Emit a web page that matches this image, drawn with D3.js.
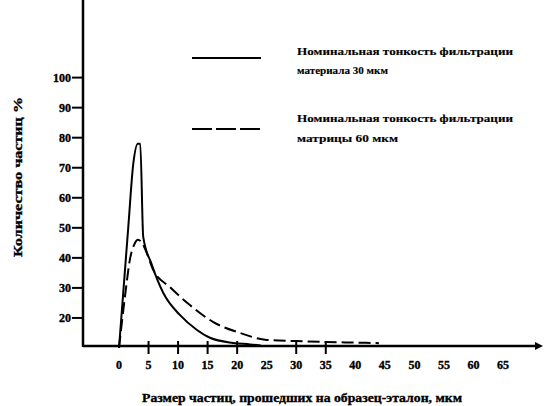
<!DOCTYPE html>
<html>
<head>
<meta charset="utf-8">
<script src="https://cdn.jsdelivr.net/npm/d3@7"></script>
<style>
  body { margin: 0; background: #fff; }
  text { font-family: "Liberation Serif", "DejaVu Serif", serif; font-weight: bold; fill: #000; stroke: #000; stroke-width: 0.35px; }
</style>
</head>
<body>
<div id="chart"></div>
<script>
// Data
const xTickLabels = [0, 5, 10, 15, 20, 25, 30, 35, 40, 45, 50, 55, 60, 65];
const xTickMarks = [5, 10, 15, 20, 30, 35];
const yTickLabels = [20, 30, 40, 50, 60, 70, 80, 90, 100];

// Номинальная тонкость фильтрации материала 30 мкм (solid)
const size30 = [0, 0.8, 1.6, 2.4, 3.2, 3.6, 4.1, 5.5, 7.5, 10.3, 13.2, 15.4, 19.3, 22.2, 24];
const count30 = [10, 30.5, 51, 71, 78, 78, 47, 38, 28.3, 21, 16, 13.4, 11.7, 11.2, 10.8];

// Номинальная тонкость фильтрации матрицы 60 мкм (dashed)
const size60 = [0, 1.0, 1.9, 2.6, 3.2, 3.9, 4.7, 5.8, 8.6, 12, 15.9, 20.5, 25, 30, 35, 40, 44];
const count60 = [10, 27, 40, 44.5, 46, 45, 41.6, 36, 30.3, 24.3, 18.7, 15, 12.7, 12.3, 12, 11.8, 11.6];

const legendLines = [
  ["Номинальная тонкость фильтрации", "материала 30 мкм"],
  ["Номинальная тонкость фильтрации", "матрицы 60 мкм"],
];

const width = 545, height = 406;

const svg = d3.select("#chart").append("svg")
  .attr("width", width)
  .attr("height", height);

svg.append("rect").attr("width", width).attr("height", height).attr("fill", "#fff");

// Scales
const x = d3.scaleLinear().domain([0, 65]).range([119, 503]);
const y = d3.scaleLinear().domain([10, 100]).range([348, 77.6]);
const axisX = 83;
const axisY = 346;

// Axes lines
svg.append("line")
  .attr("x1", axisX).attr("x2", axisX)
  .attr("y1", 0).attr("y2", axisY + 1)
  .attr("stroke", "#000").attr("stroke-width", 2.5);
svg.append("line")
  .attr("x1", axisX).attr("x2", 538)
  .attr("y1", axisY).attr("y2", axisY)
  .attr("stroke", "#000").attr("stroke-width", 2.5);
svg.append("path")
  .attr("d", `M535,${axisY - 4}L543,${axisY}L535,${axisY + 4}Z`)
  .attr("fill", "#000");

// Y ticks
const gy = svg.append("g");
gy.selectAll("line")
  .data(yTickLabels)
  .join("line")
  .attr("x1", axisX - 11).attr("x2", axisX)
  .attr("y1", (d) => y(d)).attr("y2", (d) => y(d))
  .attr("stroke", "#000").attr("stroke-width", 2);
gy.selectAll("text")
  .data(yTickLabels)
  .join("text")
  .attr("x", 71)
  .attr("y", (d) => y(d))
  .attr("dy", "0.35em")
  .attr("text-anchor", "end")
  .attr("font-size", 12)
  .text((d) => d);

// X ticks
const gx = svg.append("g");
gx.selectAll("line")
  .data(xTickMarks)
  .join("line")
  .attr("x1", (d) => x(d)).attr("x2", (d) => x(d))
  .attr("y1", axisY - 5).attr("y2", axisY + 8)
  .attr("stroke", "#000").attr("stroke-width", 2);
gx.selectAll("text")
  .data(xTickLabels)
  .join("text")
  .attr("x", (d) => x(d))
  .attr("y", 365)
  .attr("dy", "0.35em")
  .attr("text-anchor", "middle")
  .attr("font-size", 12)
  .text((d) => d);

// Axis titles
svg.append("text")
  .attr("x", 142)
  .attr("y", 402)
  .attr("font-size", 13)
  .attr("textLength", 320)
  .attr("lengthAdjust", "spacingAndGlyphs")
  .text("Размер частиц, прошедших на  образец-эталон, мкм");

svg.append("text")
  .attr("transform", "translate(22,177) rotate(-90)")
  .attr("text-anchor", "middle")
  .attr("font-size", 13)
  .attr("textLength", 160)
  .attr("lengthAdjust", "spacingAndGlyphs")
  .text("Количество частиц  %");

// Curves
const line = d3.line()
  .x((d) => x(d[0]))
  .y((d) => y(d[1]))
  .curve(d3.curveMonotoneX);

svg.append("path")
  .attr("d", line(d3.zip(size30, count30)))
  .attr("fill", "none")
  .attr("stroke", "#000")
  .attr("stroke-width", 2);

svg.append("path")
  .attr("d", line(d3.zip(size60, count60)))
  .attr("fill", "none")
  .attr("stroke", "#000")
  .attr("stroke-width", 2)
  .attr("stroke-dasharray", "12,5");

// Legend
const legend = svg.append("g");
const legendRows = [
  { y: 58, dash: null, textY: [51, 70], lens: [216, 91] },
  { y: 129, dash: "20,4", textY: [118, 138], lens: [216, 101] },
];
legendRows.forEach((r, i) => {
  legend.append("line")
    .attr("x1", 192).attr("x2", 261)
    .attr("y1", r.y).attr("y2", r.y)
    .attr("stroke", "#000").attr("stroke-width", 2)
    .attr("stroke-dasharray", r.dash);
  legendLines[i].forEach((t, j) => {
    legend.append("text")
      .attr("x", 297)
      .attr("y", r.textY[j])
      .attr("dy", "0.35em")
      .attr("font-size", 11)
      .attr("textLength", r.lens[j])
      .attr("lengthAdjust", "spacingAndGlyphs")
      .style("stroke-width", "0.15px")
      .text(t);
  });
});
</script>
</body>
</html>
